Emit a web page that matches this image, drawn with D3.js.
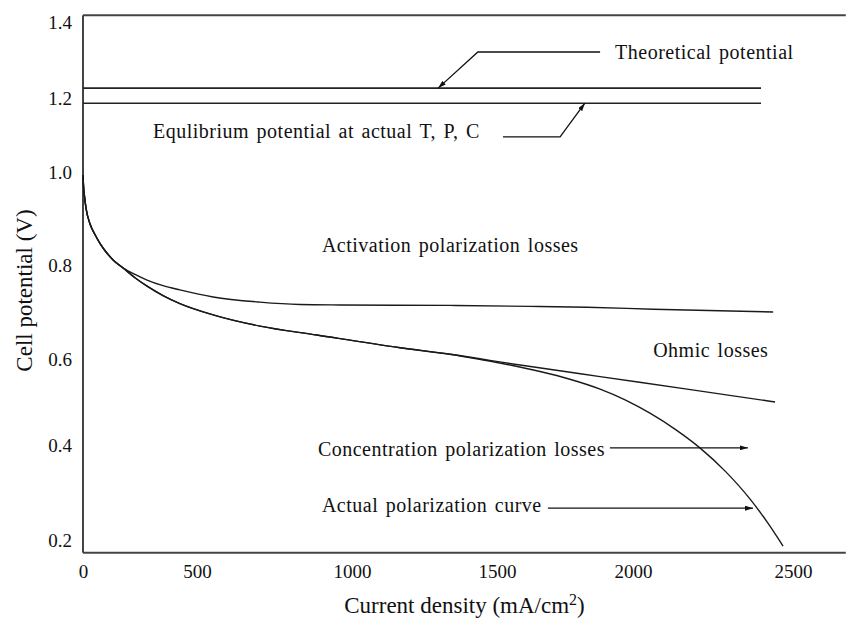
<!DOCTYPE html>
<html>
<head>
<meta charset="utf-8">
<script src="https://cdn.jsdelivr.net/npm/d3@7"></script>
<style>
  body { margin: 0; background: #fff; }
  text { font-family: "Liberation Serif", "Times New Roman", serif; fill: #111; }
</style>
</head>
<body>
<svg id="chart" width="846" height="625"></svg>
<script>
// Axis ticks and visible extents
const xTicks = [0, 500, 1000, 1500, 2000, 2500];
const yTicks = [0.2, 0.4, 0.6, 0.8, 1.0, 1.2, 1.4];
const xLimits = [0, 2665];
const yLimits = [0.173, 1.418];

// Reversible potentials (V), drawn over 0–2400 mA/cm²
const theoreticalPotential = 1.226;
const equilibriumPotential = 1.186;
const potentialSpan = [0, 2400];

// Cell voltage after activation losses only
const activationCurrent = [0, 2, 7, 13, 31, 53, 75, 101, 132, 175, 228, 281, 351, 425, 552, 703, 832, 961, 1338, 1621, 1831, 2063, 2438];
const activationVoltage = [0.993, 0.972, 0.946, 0.923, 0.888, 0.865, 0.846, 0.828, 0.811, 0.794, 0.780, 0.768, 0.756, 0.747, 0.732, 0.721, 0.716, 0.715, 0.714, 0.712, 0.710, 0.706, 0.700];

// Cell voltage after activation + ohmic losses
const ohmicCurrent = [0, 2, 7, 13, 31, 53, 75, 101, 132, 175, 228, 281, 351, 425, 552, 703, 887, 1166, 1338, 1585, 1879, 2169, 2444];
const ohmicVoltage = [0.993, 0.972, 0.946, 0.923, 0.888, 0.865, 0.846, 0.828, 0.811, 0.794, 0.773, 0.755, 0.735, 0.718, 0.694, 0.670, 0.651, 0.624, 0.610, 0.586, 0.559, 0.530, 0.500];

// Actual polarization curve (with concentration losses)
const actualCurrent = [0, 2, 7, 13, 31, 53, 75, 101, 132, 175, 228, 281, 351, 425, 552, 703, 887, 1166, 1338, 1441, 1548, 1658, 1768, 1879, 1971, 2053, 2131, 2209, 2288, 2366, 2419, 2469];
const actualVoltage = [0.993, 0.972, 0.946, 0.923, 0.888, 0.865, 0.846, 0.828, 0.811, 0.794, 0.773, 0.755, 0.735, 0.718, 0.694, 0.670, 0.651, 0.624, 0.610, 0.599, 0.586, 0.571, 0.553, 0.530, 0.505, 0.474, 0.437, 0.394, 0.345, 0.286, 0.238, 0.187];

// Annotation labels, anchored in data units (left edge, vertical centre)
const labelText = [
  "Theoretical potential",
  "Equlibrium potential at actual T, P, C",
  "Activation polarization losses",
  "Ohmic losses",
  "Concentration polarization losses",
  "Actual polarization curve"
];
const labelCurrent = [1934, 307, 903, 2063, 890, 903];
const labelVoltage = [1.321, 1.111, 0.843, 0.619, 0.392, 0.274];

// Leader arrows in data units, ending at the arrowhead
const arrowPaths = [
  [[1879, 1.321], [1434, 1.321], [1297, theoreticalPotential]],
  [[1522, 1.095], [1732, 1.095], [1823, equilibriumPotential]],
  [[1915, 0.394], [2359, 0.394]],
  [[1687, 0.267], [2375, 0.267]]
];

const svg = d3.select("#chart");
svg.append("rect").attr("width", 846).attr("height", 625).attr("fill", "#fff");

// Piecewise scales follow the printed tick spacing
const x = d3.scaleLinear().domain(xTicks).range([83, 197, 352, 497, 633, 793]);
const y = d3.scaleLinear().domain(yTicks).range([540, 445, 359, 265, 172, 98, 22]);

// Frame: left axis, bottom axis, top rule
const frame = svg.append("g").attr("stroke", "#444").attr("stroke-width", 2).attr("fill", "none");
frame.append("line").attr("x1", x(0)).attr("x2", x(0)).attr("y1", y(yLimits[1])).attr("y2", y(yLimits[0]));
frame.append("line").attr("x1", x(0)).attr("x2", x(xLimits[1])).attr("y1", y(yLimits[0])).attr("y2", y(yLimits[0]));
frame.append("line").attr("x1", x(0)).attr("x2", x(xLimits[1])).attr("y1", y(yLimits[1])).attr("y2", y(yLimits[1]));

// Tick labels
const yAxis = svg.append("g").attr("transform", `translate(${x(0)},0)`)
  .call(d3.axisLeft(y).tickValues(yTicks).tickSize(0).tickPadding(11).tickFormat(d3.format(".1f")));
const xAxis = svg.append("g").attr("transform", `translate(0,${y(yLimits[0])})`)
  .call(d3.axisBottom(x).tickValues(xTicks).tickSize(0).tickPadding(12).tickFormat(d3.format("d")));
[yAxis, xAxis].forEach(g => {
  g.select(".domain").remove();
  g.selectAll("text").attr("font-size", 19).attr("fill", "#000");
});

// Axis titles
svg.append("text")
  .attr("transform", `translate(24,${(y(0.4) + y(1.0)) / 2 - 18}) rotate(-90)`)
  .attr("text-anchor", "middle").attr("dy", "0.35em")
  .attr("font-size", 23).text("Cell potential (V)");
const xTitle = svg.append("text")
  .attr("x", (x(1000) + x(1500)) / 2 + 40).attr("y", 613)
  .attr("text-anchor", "middle").attr("font-size", 23);
xTitle.append("tspan").text("Current density (mA/cm");
xTitle.append("tspan").attr("font-size", 16).attr("dy", -8).text("2");
xTitle.append("tspan").attr("dy", 8).text(")");

// Reversible potential lines
const flat = svg.append("g").attr("stroke", "#222").attr("stroke-width", 1.6);
[theoreticalPotential, equilibriumPotential].forEach(v => {
  flat.append("line")
    .attr("x1", x(potentialSpan[0])).attr("x2", x(potentialSpan[1]))
    .attr("y1", y(v)).attr("y2", y(v));
});

// Polarization curves
const line = d3.line().x(d => x(d[0])).y(d => y(d[1])).curve(d3.curveMonotoneX);
const series = [
  [activationCurrent, activationVoltage],
  [ohmicCurrent, ohmicVoltage],
  [actualCurrent, actualVoltage]
];
svg.append("g").selectAll("path").data(series).join("path")
  .attr("fill", "none").attr("stroke", "#1a1a1a").attr("stroke-width", 1.4)
  .attr("d", ([cx, cy]) => line(cx.map((c, i) => [c, cy[i]])));

// Arrowhead marker
svg.append("defs").append("marker")
  .attr("id", "head").attr("viewBox", "0 0 8 5").attr("refX", 8).attr("refY", 2.5)
  .attr("markerWidth", 8).attr("markerHeight", 5).attr("markerUnits", "userSpaceOnUse")
  .attr("orient", "auto")
  .append("path").attr("d", "M0,0L8,2.5L0,5Z").attr("fill", "#111");

const leader = d3.line().x(d => x(d[0])).y(d => y(d[1]));
svg.append("g").selectAll("path").data(arrowPaths).join("path")
  .attr("fill", "none").attr("stroke", "#111").attr("stroke-width", 1.3)
  .attr("marker-end", "url(#head)")
  .attr("d", leader);

// Annotation labels
svg.append("g").selectAll("text").data(labelText).join("text")
  .attr("x", (d, i) => x(labelCurrent[i]))
  .attr("y", (d, i) => y(labelVoltage[i]))
  .attr("dy", "0.35em").attr("font-size", 20)
  .attr("letter-spacing", 0.5).attr("word-spacing", 2)
  .text(d => d);
</script>
</body>
</html>
